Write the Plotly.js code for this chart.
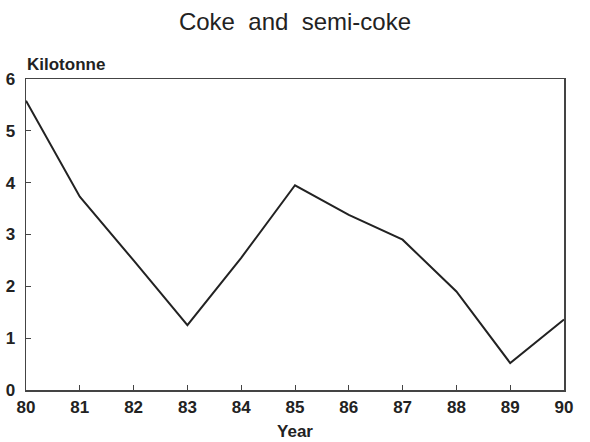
<!DOCTYPE html>
<html><head><meta charset="utf-8">
<script src="https://cdn.plot.ly/plotly-3.0.1.min.js"></script>
<style>html,body{margin:0;padding:0;background:#fff;}#chart{width:590px;height:442px;}</style>
</head><body><div id="chart"></div>
<script>
const years = [80, 81, 82, 83, 84, 85, 86, 87, 88, 89, 90];
const values = [5.58, 3.73, 2.5, 1.25, 2.55, 3.95, 3.38, 2.9, 1.9, 0.52, 1.36];
const tickLabels = ['80','81','82','83','84','85','86','87','88','89','90'];

const font = 'Liberation Sans, Arial, sans-serif';
Plotly.newPlot('chart', [{
  x: years, y: values, type: 'scatter', mode: 'lines',
  line: {color: '#222', width: 2}, hoverinfo: 'none'
}], {
  width: 590, height: 442,
  margin: {l: 26, r: 26, t: 79, b: 52},
  paper_bgcolor: '#fff', plot_bgcolor: '#fff',
  showlegend: false,
  title: {text: 'Coke  and  semi-coke', font: {family: font, size: 24, color: '#222'}, x: 0.5, xanchor: 'center', y: 0.952, yanchor: 'middle'},
  xaxis: {
    range: [80, 90], tickvals: years, ticktext: tickLabels,
    ticks: 'inside', ticklen: 5, tickcolor: '#444', tickwidth: 1,
    showline: true, linecolor: '#444', linewidth: 1.5, mirror: true,
    showgrid: false, zeroline: false,
    tickfont: {family: font, size: 17, color: '#222', weight: 'bold'},
    ticklabelstandoff: 1,
    title: {text: '<b>Year</b>', font: {family: font, size: 17, color: '#222'}, standoff: 9}
  },
  yaxis: {
    range: [0, 6], tickvals: [0,1,2,3,4,5,6],
    ticks: 'inside', ticklen: 5, tickcolor: '#444', tickwidth: 1,
    showline: true, linecolor: '#444', linewidth: 1.5, mirror: true,
    showgrid: false, zeroline: false,
    tickfont: {family: font, size: 17, color: '#222', weight: 'bold'},
    ticklabelstandoff: 6
  },
  annotations: [{
    text: '<b>Kilotonne</b>', xref: 'paper', yref: 'paper', x: 0, y: 1, xanchor: 'left', yanchor: 'bottom',
    yshift: 3, xshift: -1, showarrow: false, font: {family: font, size: 17, color: '#222'}
  }]
}, {staticPlot: true});
</script></body></html>
